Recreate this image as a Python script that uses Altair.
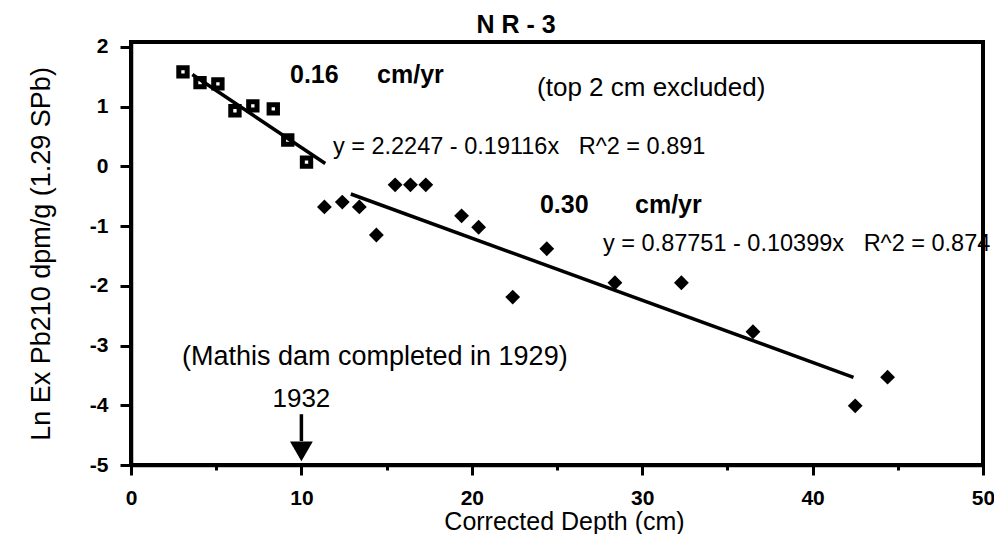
import altair as alt
import pandas as pd

FONT = "Liberation Sans"
NB = "\u00a0"

# ---- data ----
sq_depth = [3.05, 4.05, 5.1, 6.1, 7.15, 8.35, 9.2, 10.3]
sq_ln = [1.58, 1.40, 1.38, 0.93, 1.01, 0.96, 0.44, 0.07]

dm_depth = [11.35, 12.4, 13.4, 14.4, 15.5, 16.4, 17.3, 19.4, 20.4, 22.4,
            24.4, 28.4, 32.3, 36.5, 42.5, 44.4]
dm_ln = [-0.68, -0.60, -0.68, -1.15, -0.31, -0.31, -0.31, -0.83, -1.02, -2.19,
         -1.38, -1.95, -1.95, -2.77, -4.01, -3.53]

fit_names = ["upper", "lower"]
fit_intercept = [2.2247, 0.87751]
fit_slope = [-0.19116, -0.10399]
fit_start = [3.6, 12.9]
fit_end = [11.4, 42.4]

bold_text = ["0.16", "cm/yr", "0.30", "cm/yr"]
bold_x = [9.33, 14.44, 24.0, 29.58]
bold_y = [1.53, 1.53, -0.65, -0.65]

norm_text = ["(top 2 cm excluded)",
             "y = 2.2247 - 0.19116x" + NB * 3 + "R^2 = 0.891",
             "y = 0.87751 - 0.10399x" + NB * 3 + "R^2 = 0.874",
             "(Mathis dam completed in 1929)"]
norm_x = [23.83, 11.85, 27.7, 2.99]
norm_y = [1.31, 0.325, -1.30, -3.19]
norm_size = [26, 23.5, 23.5, 27]

mark_text = ["1932"]
mark_x = [10.0]
mark_y = [-3.90]
arrow_top = [-4.15]
arrow_shaft_end = [-4.6]
arrow_head_y = [-4.77]

x_ticks = [0, 5, 10, 15, 20, 25, 30, 35, 40, 45, 50]
y_ticks = [-5, -4.5, -4, -3.5, -3, -2.5, -2, -1.5, -1, -0.5, 0, 0.5, 1, 1.5, 2]

# ---- tables ----
sq_df = pd.DataFrame({"depth": sq_depth, "ln": sq_ln})
dm_df = pd.DataFrame({"depth": dm_depth, "ln": dm_ln})
fit_rows = []
for n, a, b, s, e in zip(fit_names, fit_intercept, fit_slope, fit_start, fit_end):
    for xv in (s, e):
        fit_rows.append({"fit": n, "depth": xv, "ln": a + b * xv})
fit_df = pd.DataFrame(fit_rows)
bold_df = pd.DataFrame({"t": bold_text, "depth": bold_x, "ln": bold_y})
norm_df = pd.DataFrame({"t": norm_text, "depth": norm_x, "ln": norm_y, "s": norm_size})
mark_df = pd.DataFrame({"t": mark_text, "depth": mark_x, "ln": mark_y,
                        "top": arrow_top, "bot": arrow_shaft_end, "head": arrow_head_y})

xscale = alt.Scale(domain=[0, 50], nice=False, zero=False)
yscale = alt.Scale(domain=[-5, 2.08], nice=False, zero=False)

xaxis = alt.Axis(
    values=x_ticks,
    labelExpr="datum.value % 10 == 0 ? datum.label : ''",
    tickSize={"condition": {"test": "datum.value % 10 == 0", "value": 10}, "value": 5},
    title="Corrected Depth (cm)", labelFlush=False,
    labelFontSize=21, labelFontWeight="bold", labelPadding=12,
    titleFontSize=25, titleFontWeight="normal",
    titleBaseline="alphabetic", titleY=64, titleX=433,
)
yaxis = alt.Axis(
    values=y_ticks,
    labelExpr="datum.value % 1 == 0 ? '' + datum.value : ''",
    tickSize={"condition": {"test": "datum.value % 1 == 0", "value": 11}, "value": 5},
    title="Ln Ex Pb210 dpm/g (1.29 SPb)", labelFlush=False,
    labelFontSize=21, labelFontWeight="bold", labelPadding=12,
    titleFontSize=27, titleFontWeight="normal", titlePadding=34,
)

X = alt.X("depth:Q", scale=xscale, axis=xaxis)
Y = alt.Y("ln:Q", scale=yscale, axis=yaxis)

squares = alt.Chart(sq_df).mark_point(
    shape="square", filled=False, stroke="black", strokeWidth=5, size=70, opacity=1
).encode(x=X, y=Y)

diamonds = alt.Chart(dm_df).mark_point(
    shape="diamond", filled=True, color="black", size=220, opacity=1
).encode(x="depth:Q", y="ln:Q")

fits = alt.Chart(fit_df).mark_line(color="black", strokeWidth=3.5).encode(
    x="depth:Q", y="ln:Q", detail="fit:N"
)

bold_lbl = alt.Chart(bold_df).mark_text(
    align="left", baseline="middle", font=FONT, fontWeight="bold", fontSize=25, color="black"
).encode(x="depth:Q", y="ln:Q", text="t:N")

norm_lbl = alt.Chart(norm_df).mark_text(
    align="left", baseline="middle", font=FONT, color="black"
).encode(x="depth:Q", y="ln:Q", text="t:N", size=alt.Size("s:Q", scale=None, legend=None))

year_lbl = alt.Chart(mark_df).mark_text(
    align="center", baseline="middle", font=FONT, fontSize=26, color="black"
).encode(x="depth:Q", y="ln:Q", text="t:N")

shaft = alt.Chart(mark_df).mark_rule(color="black", strokeWidth=3.5).encode(
    x="depth:Q", y="top:Q", y2="bot:Q"
)
head = alt.Chart(mark_df).mark_point(
    shape="triangle-down", filled=True, color="black", size=520, opacity=1
).encode(x="depth:Q", y="head:Q")

chart = alt.layer(
    squares, diamonds, fits, bold_lbl, norm_lbl, year_lbl, shaft, head
).properties(
    width=852, height=423,
    title=alt.TitleParams("N R - 3", fontSize=25, fontWeight="bold", font=FONT,
                          color="black", dx=-41, dy=11, offset=9),
    autosize=alt.AutoSizeParams(type="none"),
    padding={"left": 123, "top": 34, "right": 11, "bottom": 69},
).configure_view(
    stroke="black", strokeWidth=4
).configure_axis(
    grid=False, domainColor="black", domainWidth=3.5, tickColor="black", tickWidth=3,
    labelColor="black", titleColor="black", labelFont=FONT, titleFont=FONT
)

chart.save("out.html", embed_options={"renderer": "svg", "actions": False})
